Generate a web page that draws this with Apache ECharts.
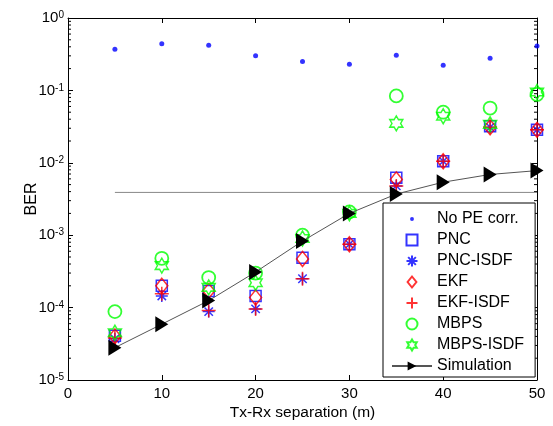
<!DOCTYPE html>
<html>
<head>
<meta charset="utf-8">
<script src="https://cdn.jsdelivr.net/npm/echarts@6/dist/echarts.min.js"></script>
<style>
html,body{margin:0;padding:0;background:#fff;}
#c{width:553px;height:426px;}
</style>
</head>
<body>
<div id="c"></div>
<script>
// ---- data ----
var separation = [5, 10, 15, 20, 25, 30, 35, 40, 45, 50];
var noPE      = [0.37, 0.44, 0.42, 0.30, 0.25, 0.23, 0.305, 0.223, 0.278, 0.41];
var pnc       = [4.1e-5, 2.0e-4, 1.7e-4, 1.45e-4, 4.9e-4, 7.5e-4, 6.2e-3, 0.0105, 0.032, 0.0285];
var pncIsdf   = [3.7e-5, 1.45e-4, 8.8e-5, 9.6e-5, 2.5e-4, 7.5e-4, 4.8e-3, 0.0105, 0.031, 0.0285];
var ekf       = [4.0e-5, 2.0e-4, 1.7e-4, 1.38e-4, 4.7e-4, 7.5e-4, 5.9e-3, 0.0105, 0.031, 0.0285];
var ekfIsdf   = [3.8e-5, 1.55e-4, 9.1e-5, 9.6e-5, 2.5e-4, 7.5e-4, 4.8e-3, 0.0105, 0.031, 0.0285];
var mbps      = [8.8e-5, 4.8e-4, 2.6e-4, 3.0e-4, 1.0e-3, 2.1e-3, 0.084, 0.050, 0.057, 0.088];
var mbpsIsdf  = [4.5e-5, 3.8e-4, 1.9e-4, 2.2e-4, 9.0e-4, 2.0e-3, 0.035, 0.044, 0.034, 0.095];
var simulation= [2.8e-5, 5.9e-5, 1.25e-4, 3.1e-4, 8.3e-4, 2.0e-3, 3.7e-3, 5.4e-3, 6.9e-3, 7.8e-3];
var thresholdX = [5, 50];
var thresholdY = [3.9e-3, 3.9e-3];
var seriesNames = ['No PE corr.', 'PNC', 'PNC-ISDF', 'EKF', 'EKF-ISDF', 'MBPS', 'MBPS-ISDF', 'Simulation'];
var xTicks = [0, 10, 20, 30, 40, 50];
var yDecades = [-5, -4, -3, -2, -1, 0];
var minorMantissas = [2, 3, 4, 5, 6, 7, 8, 9];
var xTitle = 'Tx-Rx separation (m)';
var yTitle = 'BER';

function pairs(xs, ys) { return xs.map(function (x, i) { return [x, ys[i]]; }); }

var minorTickVals = [];
yDecades.slice(0, -1).forEach(function (e) {
  minorMantissas.forEach(function (m) { minorTickVals.push([0, m * Math.pow(10, e)]); });
});

var FONT = 'Liberation Sans, Arial, sans-serif';
var BLUE = '#0000ff', RED = '#ff0000', GREEN = '#00ff00';

var SYM_DOT = 'path://M0,0M14,14M9.5,7A2.5,2.5,0,1,1,4.5,7A2.5,2.5,0,1,1,9.5,7Z';
var SYM_SQ = 'path://M0,0L10,0L10,10L0,10Z';
var SYM_DIA = 'path://M0,-8L6.4,0L0,8L-6.4,0Z';
var SYM_AST = 'path://M-10,0L10,0M0,-10L0,10M-7,-7L7,7M-7,7L7,-7';
var SYM_PLUS = 'path://M-10,0L10,0M0,-10L0,10';
var SYM_HEX = 'path://M0,-10L2.887,-5L8.66,-5L5.774,0L8.66,5L2.887,5L0,10L-2.887,5L-8.66,5L-5.774,0L-8.66,-5L-2.887,-5Z';
var SYM_TRI = 'path://M0,0L13,8L0,16Z';

function hollow(color, w) {
  return { color: 'none', borderColor: color, borderWidth: w || 1.5 };
}

var chart = echarts.init(document.getElementById('c'), null, { renderer: 'canvas' });

var axisLineStyle = { show: true, onZero: false, lineStyle: { color: '#000', width: 1 } };
var axisTickStyle = { show: true, inside: true, length: 5, lineStyle: { color: '#000', width: 1 } };

var option = {
  backgroundColor: '#fff',
  animation: false,
  textStyle: { fontFamily: FONT },
  grid: { left: 68, right: 16, top: 18, bottom: 44 },
  legend: {
    orient: 'vertical',
    left: 383, top: 203,
    data: seriesNames,
    backgroundColor: '#fff',
    borderColor: '#000', borderWidth: 1,
    padding: [8, 11, 3, 8],
    itemGap: 5, itemWidth: 40, itemHeight: 11,
    textStyle: { fontSize: 16, color: '#000', fontFamily: FONT },
    inactiveColor: '#000'
  },
  xAxis: [{
    type: 'value', min: 0, max: 50, interval: 10,
    name: xTitle, nameLocation: 'middle', nameGap: 25, nameMoveOverlap: false,
    nameTextStyle: { fontSize: 15.5, color: '#000', fontFamily: FONT },
    axisLine: axisLineStyle,
    axisTick: axisTickStyle,
    axisLabel: { fontSize: 15, color: '#000', margin: 6, fontFamily: FONT },
    splitLine: { show: false }
  }, {
    type: 'value', min: 0, max: 50, interval: 10, position: 'top',
    axisLine: axisLineStyle,
    axisTick: axisTickStyle,
    axisLabel: { show: false }, splitLine: { show: false }
  }],
  yAxis: [{
    type: 'log', logBase: 10, min: 1e-5, max: 1,
    name: yTitle, nameLocation: 'middle', nameGap: 28, nameMoveOverlap: false,
    nameTextStyle: { fontSize: 16, color: '#000', fontFamily: FONT },
    axisLine: axisLineStyle,
    axisTick: axisTickStyle,
    splitLine: { show: false },
    axisLabel: {
      margin: 4, color: '#000',
      formatter: function (v) {
        var e = Math.round(Math.log(v) / Math.LN10);
        return '{b|10}{s|' + e + '}';
      },
      rich: {
        b: { fontSize: 15, fontFamily: FONT, color: '#000', lineHeight: 15, padding: [5, 0, 0, 0], verticalAlign: 'bottom' },
        s: { fontSize: 10, fontFamily: FONT, color: '#000', lineHeight: 10, verticalAlign: 'top' }
      }
    }
  }, {
    type: 'log', logBase: 10, min: 1e-5, max: 1, position: 'right',
    axisLine: axisLineStyle,
    axisTick: axisTickStyle,
    axisLabel: { show: false }, splitLine: { show: false }
  }],
  series: [
    {
      type: 'custom', name: 'minorTicks', silent: true, clip: false,
      data: minorTickVals,
      renderItem: function (params, api) {
        var p = api.coord([0, api.value(1)]);
        var cs = params.coordSys;
        var xr = cs.x + cs.width;
        return {
          type: 'group',
          children: [
            { type: 'line', shape: { x1: cs.x, y1: p[1], x2: cs.x + 3, y2: p[1] }, style: { stroke: '#000', lineWidth: 1 } },
            { type: 'line', shape: { x1: xr - 3, y1: p[1], x2: xr, y2: p[1] }, style: { stroke: '#000', lineWidth: 1 } }
          ]
        };
      }
    },
    {
      type: 'line', name: 'threshold', data: pairs(thresholdX, thresholdY),
      symbol: 'none', lineStyle: { color: '#888', width: 1 }, silent: true
    },
    { type: 'scatter', name: seriesNames[0], data: pairs(separation, noPE),
      symbol: SYM_DOT, symbolSize: 14, itemStyle: { color: BLUE } },
    { type: 'scatter', name: seriesNames[1], data: pairs(separation, pnc),
      symbol: SYM_SQ, symbolSize: 11, itemStyle: hollow(BLUE, 1.5) },
    { type: 'scatter', name: seriesNames[2], data: pairs(separation, pncIsdf),
      symbol: SYM_AST, symbolSize: 12, itemStyle: hollow(BLUE, 1.5) },
    { type: 'scatter', name: seriesNames[3], data: pairs(separation, ekf),
      symbol: SYM_DIA, symbolSize: [12, 15], itemStyle: hollow(RED, 1.5) },
    { type: 'scatter', name: seriesNames[4], data: pairs(separation, ekfIsdf),
      symbol: SYM_PLUS, symbolSize: 14, itemStyle: hollow(RED, 1.5) },
    { type: 'scatter', name: seriesNames[5], data: pairs(separation, mbps),
      symbol: 'circle', symbolSize: 13, itemStyle: hollow(GREEN, 1.8) },
    { type: 'scatter', name: seriesNames[6], data: pairs(separation, mbpsIsdf),
      symbol: SYM_HEX, symbolSize: [13, 15], itemStyle: hollow(GREEN, 1.5) },
    { type: 'line', name: seriesNames[7], data: pairs(separation, simulation),
      symbol: SYM_TRI, symbolSize: [13, 16], showSymbol: true,
      lineStyle: { color: '#555', width: 1 }, itemStyle: { color: '#000', borderWidth: 0 } }
  ]
};
chart.setOption(option);
</script>
</body>
</html>
